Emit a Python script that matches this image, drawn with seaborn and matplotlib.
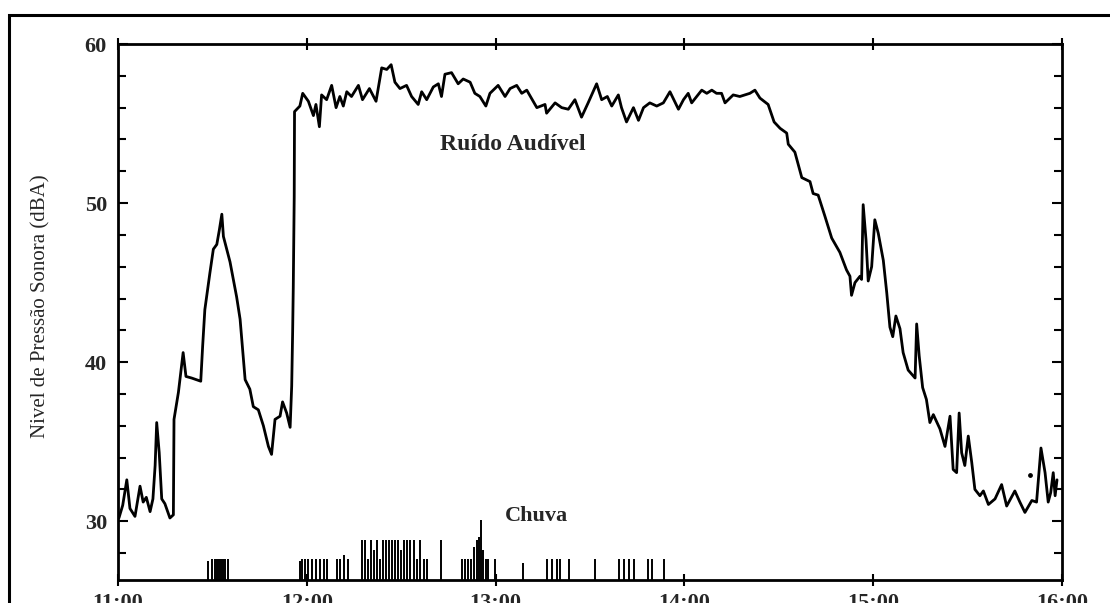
import matplotlib
matplotlib.use("Agg")
import matplotlib.pyplot as plt
import matplotlib.patches as patches
from matplotlib.ticker import MultipleLocator
import seaborn as sns

# Nivel de pressao sonora ao longo do dia (minutos depois das 11:00, dBA)
minutos = [0.3, 1.5, 2.8, 3.8, 5.4, 7.0, 8.0, 9.0, 10.2, 11.1, 11.8, 12.3, 12.8, 13.1, 13.9, 14.9,
           16.5, 17.6, 17.8, 19.2, 20.7, 21.6, 23.4, 26.3, 26.9, 27.6, 29.2, 30.3, 31.4, 32.2, 33.0,
           33.5, 35.6, 37.7, 38.8, 40.4, 41.9, 43.0, 44.6, 46.2, 47.8, 48.8, 49.9, 51.5, 52.3, 53.6,
           54.7, 55.2, 55.5, 55.7, 56.0, 56.1, 57.8, 58.7, 60.5, 62.1, 62.9, 64.0, 64.7, 66.3, 67.9,
           69.3, 70.5, 71.6, 72.7, 74.2, 76.4, 77.7, 79.9, 82.0, 83.8, 85.4, 86.8, 88.0, 89.6, 91.7,
           93.3, 95.4, 96.5, 98.1, 100.2, 101.8, 102.8, 103.9, 106.0, 108.1, 109.7, 111.9, 113.4,
           115.0, 116.9, 118.2, 120.8, 123.0, 124.6, 126.7, 128.3, 129.9, 133.1, 135.7, 136.2, 138.9,
           141.0, 143.1, 145.2, 147.3, 149.4, 152.1, 153.7, 155.5, 156.9, 159.0, 160.0, 161.6, 163.8,
           165.4, 167.0, 169.0, 171.2, 173.3, 175.4, 178.1, 179.7, 181.2, 182.3, 185.5, 187.1, 188.7,
           190.2, 191.8, 192.9, 195.5, 197.6, 200.8, 202.4, 204.0, 206.6, 208.5, 210.4, 212.5, 213.0,
           215.1, 216.2, 217.3, 219.9, 220.9, 222.5, 224.6, 226.8, 229.4, 231.5, 232.6, 233.1, 234.2,
           235.8, 236.3, 236.8, 237.7, 238.4, 239.5, 240.5, 241.6, 243.2, 244.3, 245.3, 246.2, 247.2,
           248.5, 249.5, 251.1, 253.3, 253.8, 254.6, 255.7, 256.9, 258.0, 259.1, 261.2, 262.8, 264.4,
           265.4, 266.5, 267.3, 268.1, 269.1, 270.2, 271.3, 272.3, 273.9, 275.0, 276.6, 278.7, 280.8,
           282.4, 285.0, 286.6, 288.2, 290.4, 291.9, 293.3, 294.6, 295.6, 296.4, 297.2, 297.8, 298.4]
nivel = [30.2, 31.0, 32.6, 30.8, 30.3, 32.2, 31.2, 31.5, 30.6, 31.4, 33.5, 36.2, 35.0, 34.3, 31.4, 31.1,
         30.2, 30.4, 36.4, 38.1, 40.6, 39.1, 39.0, 38.8, 41.0, 43.3, 45.6, 47.1, 47.4, 48.3, 49.3,
         47.9, 46.3, 44.1, 42.7, 38.9, 38.3, 37.2, 37.0, 36.0, 34.7, 34.2, 36.4, 36.6, 37.5, 36.8,
         35.9, 38.5, 41.9, 44.7, 50.4, 55.75, 56.1, 56.9, 56.4, 55.5, 56.2, 54.8, 56.8, 56.5, 57.4,
         56.0, 56.7, 56.1, 57.0, 56.7, 57.4, 56.5, 57.2, 56.4, 58.5, 58.4, 58.7, 57.6, 57.2, 57.4,
         56.7, 56.2, 57.0, 56.5, 57.3, 57.5, 56.7, 58.1, 58.2, 57.5, 57.8, 57.6, 56.9,
         56.7, 56.1, 56.9, 57.4, 56.7, 57.2, 57.4, 56.9, 57.1, 56.0, 56.2, 55.65, 56.3,
         56.0, 55.9, 56.5, 55.4, 56.3, 57.5, 56.5, 56.7, 56.1, 56.8, 56.0, 55.1, 56.0,
         55.2, 56.0, 56.3, 56.1, 56.3, 57.0, 55.9, 56.5, 56.9, 56.3, 57.1, 56.9, 57.1,
         56.9, 56.9, 56.3, 56.8, 56.7, 56.9, 57.1, 56.6, 56.2, 55.1, 54.7, 54.4, 53.7,
         53.2, 52.4, 51.6, 51.35, 50.6, 50.5, 49.2, 47.8, 46.9, 45.8, 45.4, 44.2, 45.0,
         45.4, 45.2, 49.9, 47.7, 45.1, 46.0, 48.95, 48.1, 46.4, 44.35, 42.2, 41.6, 42.9,
         42.1, 40.6, 39.5, 39.0, 42.4, 40.4, 38.4, 37.65, 36.2, 36.7, 35.8, 34.7, 36.6,
         33.25, 33.05, 36.8, 34.3, 33.5, 35.35, 33.7, 32.0, 31.6, 31.9, 31.05, 31.4, 32.3,
         30.95, 31.9, 31.2, 30.55, 31.3, 31.2, 34.6, 33.05, 31.2, 31.8, 33.05, 31.6, 32.6]

# Registos de chuva (minutos depois das 11:00, altura do traco em dBA)
chuva_min = [28.6, 29.9, 30.8, 31.5, 32.1, 32.7, 33.4, 34.0, 35.0,
             57.8, 58.5, 59.4, 60.4, 61.6, 62.9, 64.2, 65.4, 66.4, 69.6, 70.5, 71.8, 73.1,
             77.5, 78.5, 79.4, 80.4, 81.3, 82.3, 83.3, 84.2, 85.2, 86.1, 87.1, 88.0, 89.0, 89.9,
             90.9, 91.8, 92.8, 94.1, 95.0, 96.0, 97.2, 98.2, 102.6,
             109.3, 110.3, 111.2, 112.2, 113.1, 114.1, 114.7, 115.3, 116.0, 116.9, 117.6, 119.8,
             128.6, 136.2, 137.8, 139.4, 140.4, 143.4, 151.6, 159.3, 160.9, 162.5, 164.0,
             168.5, 169.6, 173.5]
chuva_top = [27.5, 27.6, 27.6, 27.6, 27.6, 27.6, 27.6, 27.6, 27.6,
             27.5, 27.6, 27.6, 27.6, 27.6, 27.6, 27.6, 27.6, 27.6, 27.6, 27.6, 27.9, 27.6,
             28.8, 28.8, 27.6, 28.8, 28.2, 28.8, 27.6, 28.8, 28.8, 28.8, 28.8, 28.8, 28.8, 28.2,
             28.8, 28.8, 28.8, 28.8, 27.6, 28.8, 27.6, 27.6, 28.8,
             27.6, 27.6, 27.6, 27.6, 28.4, 28.8, 29.0, 30.1, 28.2, 27.6, 27.6, 27.6,
             27.4, 27.6, 27.6, 27.6, 27.6, 27.6, 27.6, 27.6, 27.6, 27.6, 27.6,
             27.6, 27.6, 27.6]

ponto_min = [289.8]
ponto_db = [32.9]

horas = ["11:00", "12:00", "13:00", "14:00", "15:00", "16:00"]
y_rotulos = [30, 40, 50, 60]

sns.set_theme(style="ticks")
plt.rcParams["font.family"] = ["Liberation Serif", "DejaVu Serif"]

fig = plt.figure(figsize=(11.1, 6.03), dpi=100)
ax = fig.add_axes([0.1063, 0.0381, 0.8505, 0.8889])

sns.lineplot(x=minutos, y=nivel, color="black", linewidth=2.0, sort=False,
             estimator=None, ax=ax)
ax.vlines(chuva_min, 26.3, chuva_top, color="black", linewidth=1.4)
ax.scatter(ponto_min, ponto_db, s=6, color="black")

ax.set_xlim(0, 300)
ax.set_ylim(26.3, 60)
ax.set_xticks(range(0, 301, 60))
ax.set_xticklabels(horas, fontsize=16, fontweight="bold")
ax.set_yticks(y_rotulos)
ax.set_yticklabels([str(v) for v in y_rotulos], fontsize=16, fontweight="bold")
ax.yaxis.set_minor_locator(MultipleLocator(2))

for s in ax.spines.values():
    s.set_visible(True)
    s.set_linewidth(2)
    s.set_color("black")

ax.tick_params(axis="y", which="both", direction="in", left=True, right=True,
               color="black", width=1.5, pad=8)
ax.tick_params(axis="y", which="major", length=7)
ax.tick_params(axis="y", which="minor", length=6)
ax.tick_params(axis="x", which="major", direction="inout", top=True, bottom=True,
               length=8, width=1.5, color="black", pad=5)

ax.set_xlabel("")
ax.set_ylabel("Nivel de Pressão Sonora (dBA)", fontsize=15)
ax.yaxis.set_label_coords(-0.072, 0.51)

ax.text(125.5, 53.35, "Ruído Audível", fontsize=17, fontweight="bold",
        ha="center", va="baseline")
ax.text(133.1, 30.0, "Chuva", fontsize=16, fontweight="bold",
        ha="center", va="baseline")

# moldura exterior
fig.patches.append(patches.Rectangle((9 / 1110, -0.1), 1.2, 1 - 15 / 603 + 0.1,
                                     transform=fig.transFigure, fill=False,
                                     edgecolor="black", linewidth=2.2))

fig.savefig("out.png", dpi=100)
